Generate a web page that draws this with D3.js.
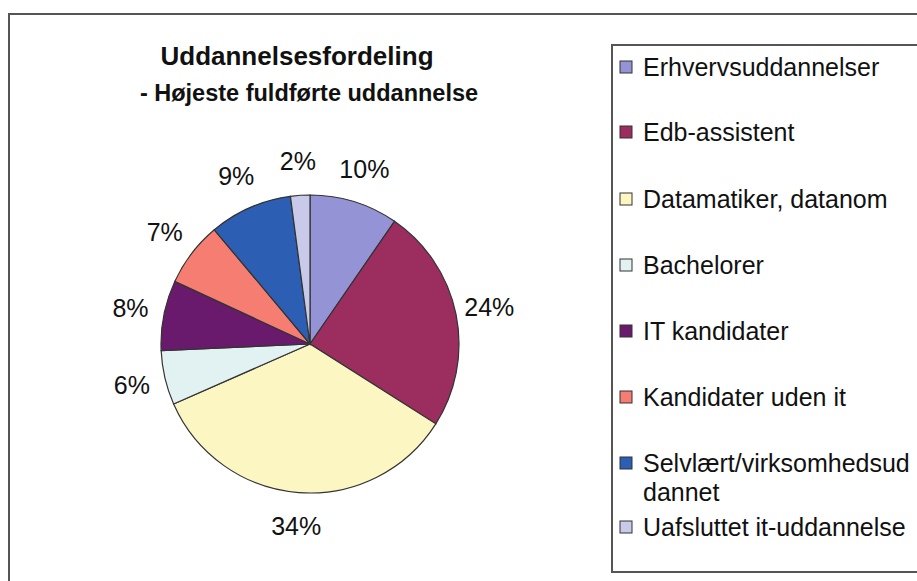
<!DOCTYPE html>
<html>
<head>
<meta charset="utf-8">
<script src="https://cdn.jsdelivr.net/npm/d3@7"></script>
<style>
  body { margin: 0; background: #fff; }
  #chart { width: 917px; height: 581px; }
  text { font-family: "Liberation Sans", Arial, sans-serif; fill: #111; }
</style>
</head>
<body>
<div id="chart"></div>
<script>
// data
const categories = ["Erhvervsuddannelser", "Edb-assistent", "Datamatiker, datanom", "Bachelorer",
    "IT kandidater", "Kandidater uden it", "Selvlært/virksomhedsuddannet", "Uafsluttet it-uddannelse"];
const shares = [9.6, 24.4, 34.4, 5.9, 7.6, 7.0, 9.0, 2.1];
const colors = ["#9393d6", "#9c2d5f", "#fcf6c3", "#e2f2f2", "#6a1a6c", "#f57d72", "#2c5fb3", "#c9c9ea"];
const legendLines = [["Erhvervsuddannelser"], ["Edb-assistent"], ["Datamatiker, datanom"], ["Bachelorer"],
    ["IT kandidater"], ["Kandidater uden it"], ["Selvlært/virksomhedsud", "dannet"], ["Uafsluttet it-uddannelse"]];

const width = 917, height = 581;

const svg = d3.select("#chart")
    .append("svg")
    .attr("width", width)
    .attr("height", height);

// outer frame
svg.append("rect")
    .attr("x", 9).attr("y", 14)
    .attr("width", 940).attr("height", 600)
    .attr("fill", "#fff")
    .attr("stroke", "#555")
    .attr("stroke-width", 2);

// title
svg.append("text")
    .attr("x", 297).attr("y", 65)
    .attr("text-anchor", "middle")
    .style("font-weight", "bold")
    .style("font-size", "26px")
    .text("Uddannelsesfordeling");

svg.append("text")
    .attr("x", 309).attr("y", 101)
    .attr("text-anchor", "middle")
    .style("font-weight", "bold")
    .style("font-size", "23.5px")
    .text("- Højeste fuldførte uddannelse");

// pie
const cx = 310, cy = 344, radius = 149;

const pie = d3.pie().sort(null).value(d => d);
const arcs = pie(shares);
const arc = d3.arc().innerRadius(0).outerRadius(radius);
const labelArc = d3.arc().innerRadius(183).outerRadius(183);

const g = svg.append("g").attr("transform", `translate(${cx},${cy})`);

g.selectAll("path")
    .data(arcs)
    .enter()
    .append("path")
        .attr("d", arc)
        .attr("fill", (d, i) => colors[i])
        .attr("stroke", "#333")
        .attr("stroke-width", 1.2);

g.selectAll("text.pct")
    .data(arcs)
    .enter()
    .append("text")
        .attr("class", "pct")
        .attr("transform", d => `translate(${labelArc.centroid(d)})`)
        .attr("text-anchor", "middle")
        .attr("dy", "0.35em")
        .style("font-size", "25px")
        .text(d => Math.round(d.data) + "%");

// legend
svg.append("rect")
    .attr("x", 612).attr("y", 45)
    .attr("width", 400).attr("height", 527)
    .attr("fill", "#fff")
    .attr("stroke", "#555")
    .attr("stroke-width", 2);

const rowY = [67, 132, 199, 265, 331, 397, 463, 527];

const legend = svg.selectAll("g.legend")
    .data(categories)
    .enter()
    .append("g")
        .attr("class", "legend")
        .attr("transform", (d, i) => `translate(620,${rowY[i]})`);

legend.append("rect")
    .attr("x", 0).attr("y", -6)
    .attr("width", 12).attr("height", 12)
    .attr("fill", (d, i) => colors[i])
    .attr("stroke", "#333")
    .attr("stroke-width", 1);

legend.each(function(d, i) {
    legendLines[i].forEach((line, j) => {
        d3.select(this).append("text")
            .attr("x", 23)
            .attr("y", j * 29)
            .attr("dy", "0.36em")
            .style("font-size", "25px")
            .text(line);
    });
});
</script>
</body>
</html>
